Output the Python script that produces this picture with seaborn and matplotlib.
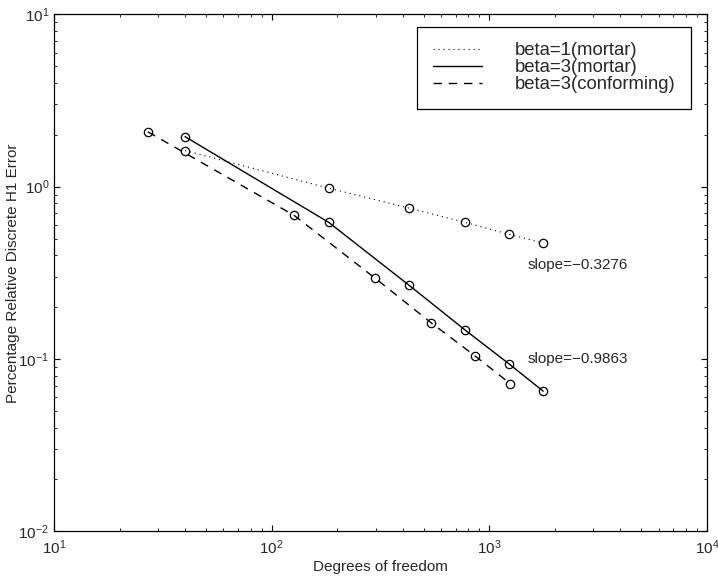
import numpy as np
import pandas as pd
import matplotlib
matplotlib.use("Agg")
import matplotlib.pyplot as plt
from matplotlib.lines import Line2D
from matplotlib.ticker import LogLocator, NullFormatter
import seaborn as sns

# values
dof_mortar = [40, 183, 429, 775, 1227, 1768]
err_beta1_mortar = [1.62, 0.98, 0.75, 0.62, 0.53, 0.47]
err_beta3_mortar = [1.95, 0.62, 0.267, 0.147, 0.094, 0.065]
dof_conf = [27, 127, 299, 541, 861, 1247]
err_beta3_conf = [2.08, 0.68, 0.294, 0.162, 0.104, 0.072]

labels = ["beta=1(mortar)", "beta=3(mortar)", "beta=3(conforming)"]
styles = [(0, (1, 3.5)), "-", (0, (6, 5))]
widths = [0.8, 1.0, 1.0]
slope_text = ["slope=\u22120.3276", "slope=\u22120.9863"]
slope_pos = [(1503, 0.349), (1503, 0.0996)]

sns.set_style("ticks")
plt.rcParams["font.family"] = ["Liberation Sans", "DejaVu Sans"]
plt.rcParams["mathtext.fontset"] = "custom"
plt.rcParams["mathtext.rm"] = "Liberation Sans"

df = pd.concat([
    pd.DataFrame({"dof": dof_mortar, "err": err_beta1_mortar, "series": labels[0]}),
    pd.DataFrame({"dof": dof_mortar, "err": err_beta3_mortar, "series": labels[1]}),
    pd.DataFrame({"dof": dof_conf, "err": err_beta3_conf, "series": labels[2]}),
])

fig = plt.figure(figsize=(7.18, 5.76), dpi=100)
ax = fig.add_axes([54 / 718, 1 - 531.3 / 576, 653 / 718, 517 / 576])
ax.set_xscale("log")
ax.set_yscale("log")

for lab, ls, lw in zip(labels, styles, widths):
    sub = df[df["series"] == lab]
    sns.lineplot(data=sub, x="dof", y="err", ax=ax, color="black", linestyle=ls,
                 linewidth=lw, marker="o", markersize=6, markerfacecolor="none",
                 markeredgecolor="black", markeredgewidth=0.9,
                 sort=False, estimator=None, legend=False)

for txt, (tx, ty) in zip(slope_text, slope_pos):
    ax.text(tx, ty, txt, fontsize=11, ha="left", va="center")

ax.set_xlim(10, 1e4)
ax.set_ylim(1e-2, 10)
ax.xaxis.set_major_locator(LogLocator(base=10, numticks=10))
ax.yaxis.set_major_locator(LogLocator(base=10, numticks=10))
ax.xaxis.set_minor_locator(LogLocator(base=10, subs=np.arange(2, 10), numticks=20))
ax.yaxis.set_minor_locator(LogLocator(base=10, subs=np.arange(2, 10), numticks=20))
ax.xaxis.set_minor_formatter(NullFormatter())
ax.yaxis.set_minor_formatter(NullFormatter())
ax.tick_params(which="both", direction="in", top=True, right=True, color="black",
               labelsize=11)
ax.tick_params(which="major", length=4, width=0.8)
ax.tick_params(which="minor", length=2.2, width=0.6)
ax.tick_params(axis="x", pad=5)
for sp in ax.spines.values():
    sp.set_visible(True)
    sp.set_color("black")
    sp.set_linewidth(0.9)

ax.set_xlabel("Degrees of freedom", fontsize=11, labelpad=2)
ax.set_ylabel("Percentage Relative Discrete H1 Error", fontsize=11)
ax.yaxis.set_label_coords(-0.052, 0.5)

handles = [Line2D([], [], color="black", linestyle=ls, linewidth=lw)
           for ls, lw in zip(styles, widths)]
leg = ax.legend(handles, labels, loc="upper right", bbox_to_anchor=(0.975, 0.975),
                borderaxespad=0, fontsize=13.3, frameon=True, fancybox=False,
                edgecolor="black", framealpha=1, handlelength=2.7,
                handletextpad=1.75, labelspacing=0.0, borderpad=0.82)
leg.get_frame().set_linewidth(0.9)

fig.savefig("out.png", dpi=100)
